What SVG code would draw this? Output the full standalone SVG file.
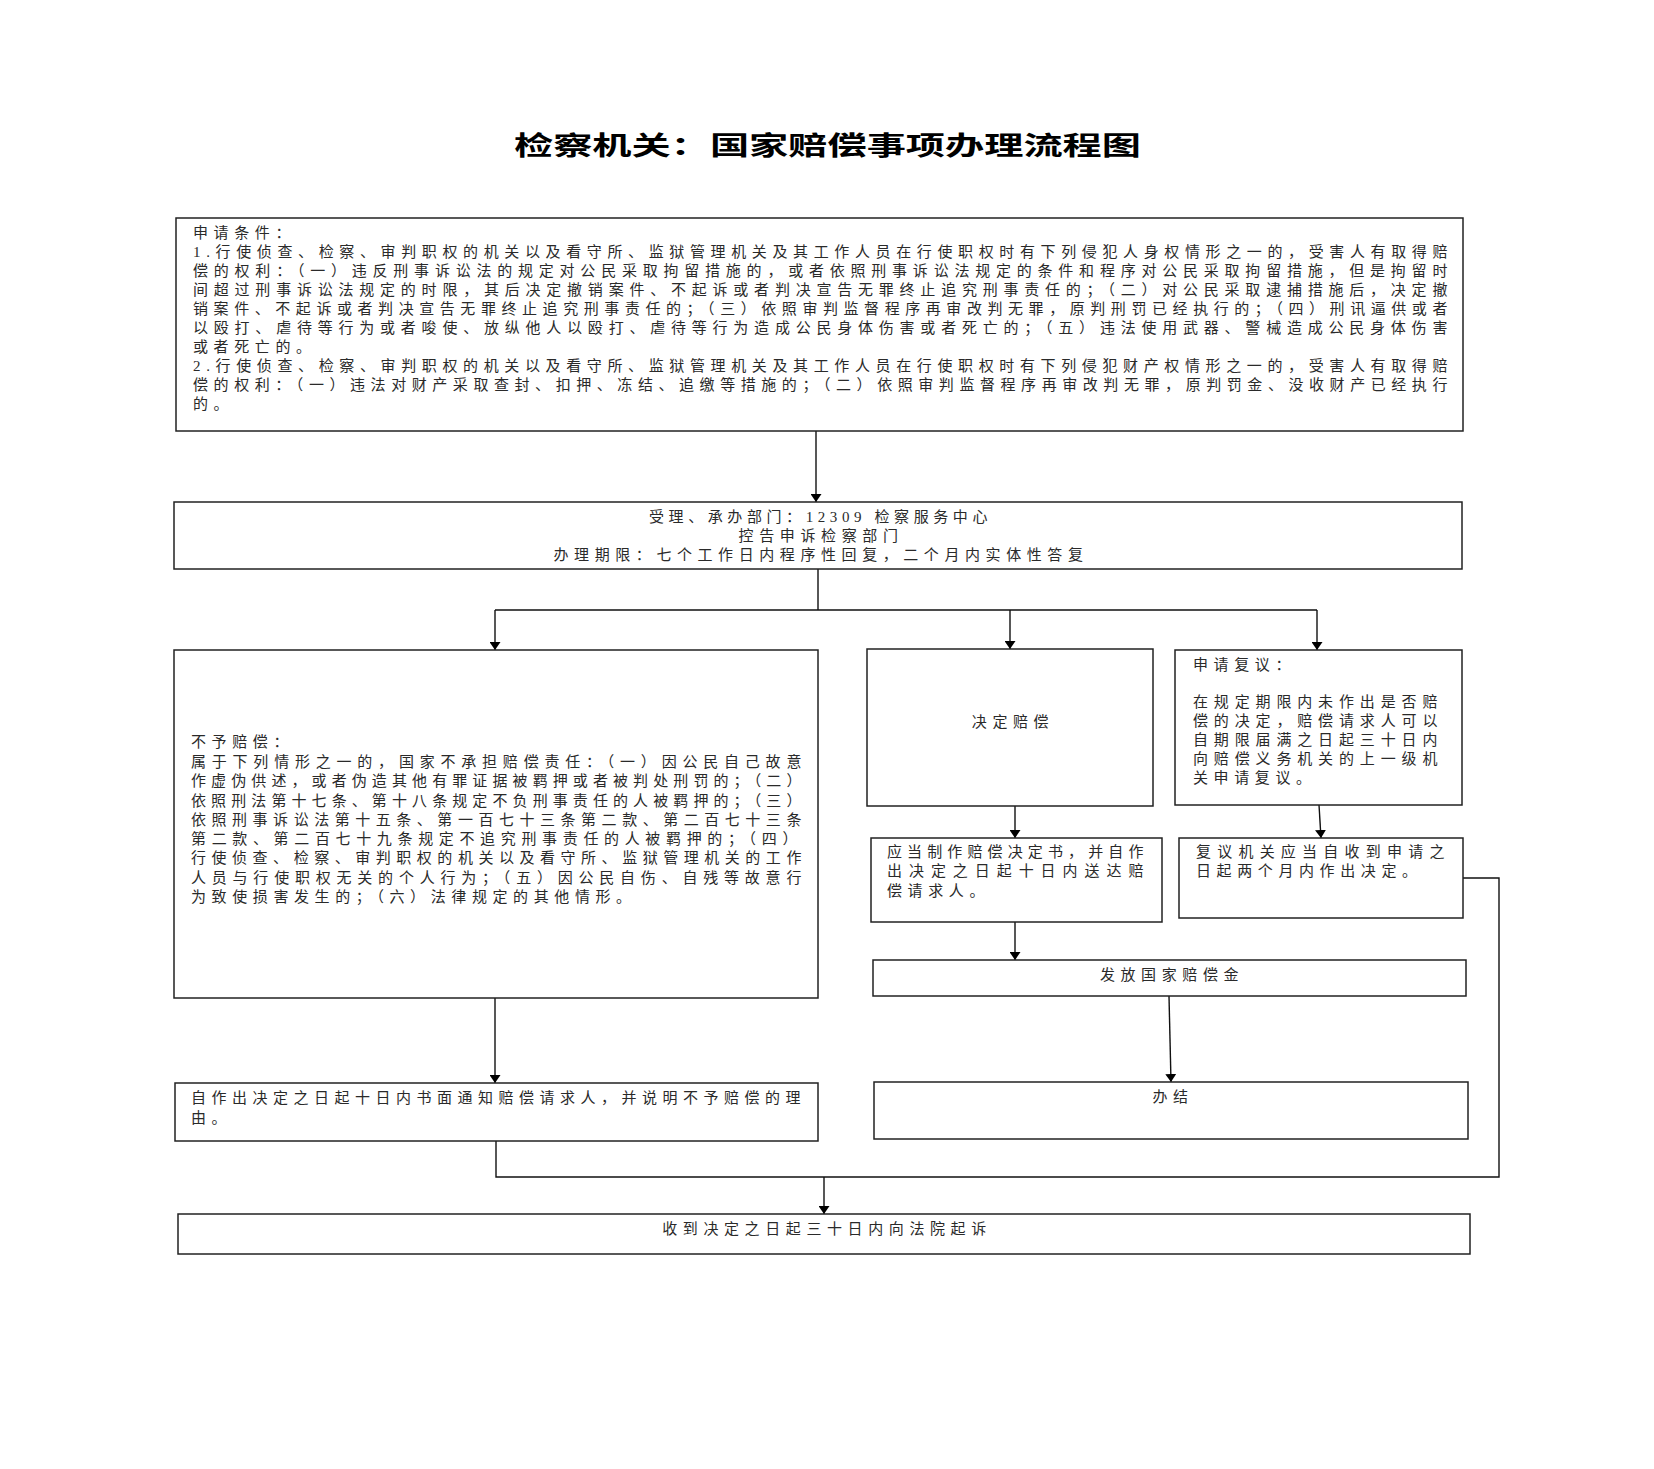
<svg xmlns="http://www.w3.org/2000/svg" width="1654" height="1469" viewBox="0 0 1654 1469">
<defs>
<style>
.box{fill:#fff;stroke:#222;stroke-width:1.5}
.t{font-family:"Liberation Serif","Noto Sans CJK SC",serif;font-size:15px;fill:#2a2a2a;letter-spacing:5.6px}
.c{text-anchor:middle}
.title{font-family:"Liberation Serif","Noto Sans CJK SC",serif;font-size:26px;font-weight:bold;fill:#000}
.ln{fill:none;stroke:#111;stroke-width:1.4}
</style>
<marker id="ah" viewBox="0 0 8 11" refX="8" refY="5.5" markerWidth="8" markerHeight="11" markerUnits="userSpaceOnUse" orient="auto">
<path d="M0,0 L8,5.5 L0,11 z" fill="#000"/>
</marker>
</defs>
<rect x="0" y="0" width="1654" height="1469" fill="#fff"/>
<text class="title" x="514" y="155" textLength="627" lengthAdjust="spacingAndGlyphs">检察机关：国家赔偿事项办理流程图</text>

<g id="connectors">
<path class="ln" d="M816,431 L816,502" marker-end="url(#ah)"/>
<path class="ln" d="M818,569 L818,610 M495,610 L1317,610"/>
<path class="ln" d="M495,610 L495,650" marker-end="url(#ah)"/>
<path class="ln" d="M1010,610 L1010,649" marker-end="url(#ah)"/>
<path class="ln" d="M1317,610 L1317,650" marker-end="url(#ah)"/>
<path class="ln" d="M1015,806 L1015,838" marker-end="url(#ah)"/>
<path class="ln" d="M1319,805 L1321,838" marker-end="url(#ah)"/>
<path class="ln" d="M1015,922 L1015,960" marker-end="url(#ah)"/>
<path class="ln" d="M1169,996 L1171,1082" marker-end="url(#ah)"/>
<path class="ln" d="M495,998 L495,1083" marker-end="url(#ah)"/>
<path class="ln" d="M1463,878 L1499,878 L1499,1177 L496,1177 L496,1141"/>
<path class="ln" d="M824,1177 L824,1214" marker-end="url(#ah)"/>
</g>

<g id="n-conditions">
<rect class="box" x="176" y="218" width="1287" height="213"/>
<text class="t" x="193" y="238">申请条件：</text>
<text class="t" x="193" y="257" textLength="1260" lengthAdjust="spacing">1.行使侦查、检察、审判职权的机关以及看守所、监狱管理机关及其工作人员在行使职权时有下列侵犯人身权情形之一的，受害人有取得赔</text>
<text class="t" x="193" y="276" textLength="1260" lengthAdjust="spacing">偿的权利：（一）违反刑事诉讼法的规定对公民采取拘留措施的，或者依照刑事诉讼法规定的条件和程序对公民采取拘留措施，但是拘留时</text>
<text class="t" x="193" y="295" textLength="1260" lengthAdjust="spacing">间超过刑事诉讼法规定的时限，其后决定撤销案件、不起诉或者判决宣告无罪终止追究刑事责任的；（二）对公民采取逮捕措施后，决定撤</text>
<text class="t" x="193" y="314" textLength="1260" lengthAdjust="spacing">销案件、不起诉或者判决宣告无罪终止追究刑事责任的；（三）依照审判监督程序再审改判无罪，原判刑罚已经执行的；（四）刑讯逼供或者</text>
<text class="t" x="193" y="333" textLength="1260" lengthAdjust="spacing">以殴打、虐待等行为或者唆使、放纵他人以殴打、虐待等行为造成公民身体伤害或者死亡的；（五）违法使用武器、警械造成公民身体伤害</text>
<text class="t" x="193" y="352">或者死亡的。</text>
<text class="t" x="193" y="371" textLength="1260" lengthAdjust="spacing">2.行使侦查、检察、审判职权的机关以及看守所、监狱管理机关及其工作人员在行使职权时有下列侵犯财产权情形之一的，受害人有取得赔</text>
<text class="t" x="193" y="390" textLength="1260" lengthAdjust="spacing">偿的权利：（一）违法对财产采取查封、扣押、冻结、追缴等措施的；（二）依照审判监督程序再审改判无罪，原判罚金、没收财产已经执行</text>
<text class="t" x="193" y="409">的。</text>
</g>

<g id="n-accept">
<rect class="box" x="174" y="502" width="1288" height="67"/>
<text class="t c" x="821" y="522" textLength="344" lengthAdjust="spacing">受理、承办部门：12309 检察服务中心</text>
<text class="t c" x="821" y="541" textLength="165" lengthAdjust="spacing">控告申诉检察部门</text>
<text class="t c" x="821" y="560" textLength="535" lengthAdjust="spacing">办理期限：七个工作日内程序性回复，二个月内实体性答复</text>
</g>

<g id="n-refuse">
<rect class="box" x="174" y="650" width="644" height="348"/>
<text class="t" x="191" y="747">不予赔偿：</text>
<text class="t" x="191" y="767" textLength="616" lengthAdjust="spacing">属于下列情形之一的，国家不承担赔偿责任：（一）因公民自己故意</text>
<text class="t" x="191" y="786" textLength="616" lengthAdjust="spacing">作虚伪供述，或者伪造其他有罪证据被羁押或者被判处刑罚的；（二）</text>
<text class="t" x="191" y="806" textLength="616" lengthAdjust="spacing">依照刑法第十七条、第十八条规定不负刑事责任的人被羁押的；（三）</text>
<text class="t" x="191" y="825" textLength="616" lengthAdjust="spacing">依照刑事诉讼法第十五条、第一百七十三条第二款、第二百七十三条</text>
<text class="t" x="191" y="844" textLength="612" lengthAdjust="spacing">第二款、第二百七十九条规定不追究刑事责任的人被羁押的；（四）</text>
<text class="t" x="191" y="863" textLength="616" lengthAdjust="spacing">行使侦查、检察、审判职权的机关以及看守所、监狱管理机关的工作</text>
<text class="t" x="191" y="883" textLength="616" lengthAdjust="spacing">人员与行使职权无关的个人行为；（五）因公民自伤、自残等故意行</text>
<text class="t" x="191" y="902">为致使损害发生的；（六）法律规定的其他情形。</text>
</g>

<g id="n-decide">
<rect class="box" x="867" y="649" width="286" height="157"/>
<text class="t c" x="1013" y="727">决定赔偿</text>
</g>

<g id="n-review">
<rect class="box" x="1175" y="650" width="287" height="155"/>
<text class="t" x="1193" y="670">申请复议：</text>
<text class="t" x="1193" y="707" textLength="250" lengthAdjust="spacing">在规定期限内未作出是否赔</text>
<text class="t" x="1193" y="726" textLength="250" lengthAdjust="spacing">偿的决定，赔偿请求人可以</text>
<text class="t" x="1193" y="745" textLength="250" lengthAdjust="spacing">自期限届满之日起三十日内</text>
<text class="t" x="1193" y="764" textLength="250" lengthAdjust="spacing">向赔偿义务机关的上一级机</text>
<text class="t" x="1193" y="783">关申请复议。</text>
</g>

<g id="n-deliver">
<rect class="box" x="871" y="838" width="291" height="84"/>
<text class="t" x="887" y="857" textLength="262" lengthAdjust="spacing">应当制作赔偿决定书，并自作</text>
<text class="t" x="887" y="876" textLength="262" lengthAdjust="spacing">出决定之日起十日内送达赔</text>
<text class="t" x="887" y="896">偿请求人。</text>
</g>

<g id="n-revieworgan">
<rect class="box" x="1179" y="838" width="284" height="80"/>
<text class="t" x="1196" y="857" textLength="254" lengthAdjust="spacing">复议机关应当自收到申请之</text>
<text class="t" x="1196" y="876">日起两个月内作出决定。</text>
</g>

<g id="n-pay">
<rect class="box" x="873" y="960" width="593" height="36"/>
<text class="t c" x="1172" y="980">发放国家赔偿金</text>
</g>

<g id="n-close">
<rect class="box" x="874" y="1082" width="594" height="57"/>
<text class="t c" x="1173" y="1102">办结</text>
</g>

<g id="n-notify">
<rect class="box" x="175" y="1083" width="643" height="58"/>
<text class="t" x="191" y="1103" textLength="615" lengthAdjust="spacing">自作出决定之日起十日内书面通知赔偿请求人，并说明不予赔偿的理</text>
<text class="t" x="191" y="1123">由。</text>
</g>

<g id="n-sue">
<rect class="box" x="178" y="1214" width="1292" height="40"/>
<text class="t c" x="827" y="1234">收到决定之日起三十日内向法院起诉</text>
</g>
</svg>
